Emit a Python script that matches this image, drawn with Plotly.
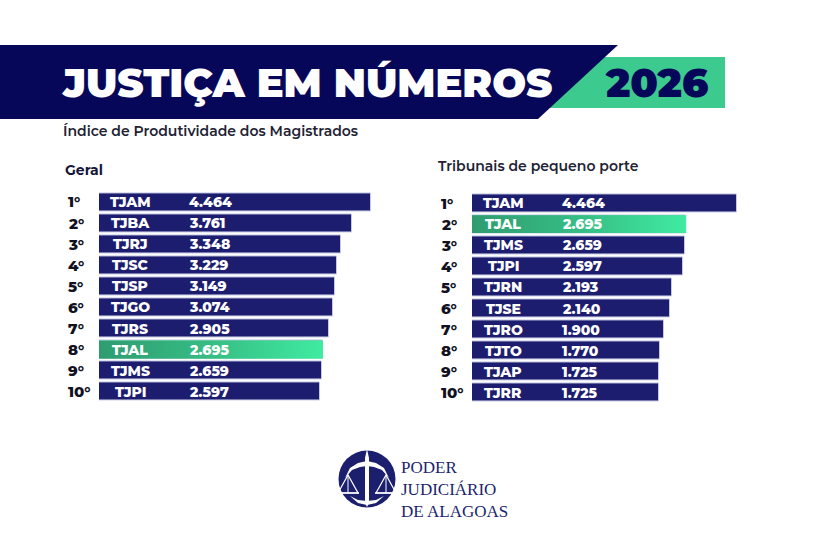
import plotly.graph_objects as go

# ---------------- data ----------------
title_text = "JUSTIÇA EM NÚMEROS"
year_text = "2026"
subtitle_text = "Índice de Produtividade dos Magistrados"
left_title = "Geral"
right_title = "Tribunais de pequeno porte"
logo_lines = ["PODER", "JUDICIÁRIO", "DE ALAGOAS"]

ranks = ["1°", "2°", "3°", "4°", "5°", "6°", "7°", "8°", "9°", "10°"]
geral_courts = ["TJAM", "TJBA", "TJRJ", "TJSC", "TJSP", "TJGO", "TJRS", "TJAL", "TJMS", "TJPI"]
geral_values = [4464, 3761, 3348, 3229, 3149, 3074, 2905, 2695, 2659, 2597]
peq_courts = ["TJAM", "TJAL", "TJMS", "TJPI", "TJRN", "TJSE", "TJRO", "TJTO", "TJAP", "TJRR"]
peq_values = [4464, 2695, 2659, 2597, 2193, 2140, 1900, 1770, 1725, 1725]
highlight = "TJAL"

# ---------------- style ----------------
W, H = 825, 545
NAVY = "#07075a"
BAR = "#1d1d6f"
BAR_EDGE = "#c5c8e4"
GREEN = "#3cca8f"
TEXT_DARK = "#15153a"
FONT = "Montserrat, Inter, 'Open Sans', sans-serif"
SERIF = "'Liberation Serif', 'DejaVu Serif', serif"

# per-panel pixel scale (px per unit) and bar base offset (units)
PXU_L, OFF_L = 0.0271, 5570
PXU_R, OFF_R = 0.0285, 4820
X_END = 5000
BAR_W = 0.85


def px(x):
    return x / W


def py(y):
    return 1 - y / H


def path(points, close=True):
    s = "M " + " L ".join(f"{px(x):.5f},{py(y):.5f}" for x, y in points)
    return s + (" Z" if close else "")


def fmt(v):
    return f"{v:,}".replace(",", ".")


ranks_pos = list(range(1, len(ranks) + 1))

fig = go.Figure()


def add_panel(courts, values, off, xa, ya):
    colors = [GREEN if c == highlight else BAR for c in courts]
    fig.add_trace(go.Bar(
        y=ranks_pos, x=[v + off for v in values], base=-off, orientation="h",
        width=BAR_W, marker=dict(color=colors, line=dict(color=BAR_EDGE, width=1)),
        xaxis=xa, yaxis=ya, customdata=courts,
        hovertemplate="%{customdata}<extra></extra>", showlegend=False))
    for c, v, r in zip(courts, values, ranks_pos):
        if c == highlight:
            y0, y1 = r - BAR_W / 2, r + BAR_W / 2
            fig.add_trace(go.Scatter(
                x=[-off, v, v, -off, -off], y=[y0, y0, y1, y1, y0],
                mode="lines", line=dict(width=0), fill="toself",
                fillgradient=dict(type="horizontal",
                                  colorscale=[[0, "#2f9c70"], [0.5, "#36bd84"], [1, "#40eba1"]]),
                xaxis=xa, yaxis=ya, hoverinfo="skip", showlegend=False))


add_panel(geral_courts, geral_values, OFF_L, "x", "y")
add_panel(peq_courts, peq_values, OFF_R, "x2", "y2")

left_x0, right_x0 = 99, 472
left_dom = [px(left_x0), px(left_x0 + (X_END + OFF_L) * PXU_L)]
right_dom = [px(right_x0), px(right_x0 + (X_END + OFF_R) * PXU_R)]

row0_l, row0_r, step = 202, 203, 21.1


def ydom(row0):
    top = row0 - step / 2
    bot = row0 + (len(ranks) - 1) * step + step / 2
    return [py(bot), py(top)]


ax_common = dict(visible=False, showgrid=False, zeroline=False, fixedrange=True)
fig.update_layout(
    width=W, height=H, margin=dict(l=0, r=0, t=0, b=0),
    paper_bgcolor="white", plot_bgcolor="rgba(0,0,0,0)",
    bargap=0, showlegend=False,
    xaxis=dict(domain=left_dom, range=[-OFF_L, X_END], **ax_common),
    yaxis=dict(domain=ydom(row0_l), range=[len(ranks) + 0.5, 0.5], **ax_common),
    xaxis2=dict(domain=right_dom, range=[-OFF_R, X_END], anchor="y2", **ax_common),
    yaxis2=dict(domain=ydom(row0_r), range=[len(ranks) + 0.5, 0.5], anchor="x2", **ax_common),
)

shapes = []
# header
shapes.append(dict(type="rect", xref="paper", yref="paper", x0=px(530), x1=px(725),
                   y0=py(108), y1=py(57), fillcolor=GREEN, line=dict(width=0), layer="below"))
shapes.append(dict(type="path", xref="paper", yref="paper",
                   path=path([(0, 45), (618, 45), (538, 119), (0, 119)]),
                   fillcolor=NAVY, line=dict(width=0), layer="below"))
# logo emblem
cx, cy, rr = 367, 479, 28.5
LOGO = "#1b1f6e"
shapes.append(dict(type="circle", xref="paper", yref="paper", x0=px(cx - rr), x1=px(cx + rr),
                   y0=py(cy + rr), y1=py(cy - rr), fillcolor=LOGO, line=dict(width=0)))
# crescent hilt
shapes.append(dict(type="path", xref="paper", yref="paper",
                   path=path([(345, 478), (350, 468), (358, 463), (367, 461), (376, 463), (384, 468), (389, 478),
                              (382, 470), (374, 467), (367, 466), (360, 467), (352, 470)]),
                   fillcolor="white", line=dict(width=0)))
# sword
shapes.append(dict(type="path", xref="paper", yref="paper",
                   path=path([(367, 449), (369, 458), (369, 503), (367, 507), (365, 503), (365, 458)]),
                   fillcolor="white", line=dict(width=0)))
# scales
for sx in (348, 386):
    shapes.append(dict(type="path", xref="paper", yref="paper",
                       path=path([(sx - 10, 493), (sx, 475), (sx + 10, 493)]),
                       fillcolor="rgba(0,0,0,0)", line=dict(color="white", width=1.2)))
    shapes.append(dict(type="line", xref="paper", yref="paper", x0=px(sx - 11), x1=px(sx + 11),
                       y0=py(493), y1=py(493), line=dict(color="white", width=1.5)))
    shapes.append(dict(type="line", xref="paper", yref="paper", x0=px(sx), x1=px(sx),
                       y0=py(475), y1=py(493), line=dict(color="white", width=1)))
# bottom cup
shapes.append(dict(type="path", xref="paper", yref="paper",
                   path=path([(350, 496), (358, 503), (367, 505), (376, 503), (384, 496),
                              (376, 500), (367, 501), (358, 500)]),
                   fillcolor="white", line=dict(width=0)))
fig.update_layout(shapes=shapes)

ann = []


def text(x, y, s, size, color, weight=700, anchor="left", family=FONT, yref="paper", align="left"):
    ann.append(dict(x=px(x), y=(py(y) if yref == "paper" else y), xref="paper", yref=yref,
                    text=s, showarrow=False, xanchor=anchor, yanchor="middle", align=align,
                    font=dict(family=family, size=size, color=color, weight=weight)))


text(60, 82, title_text, 40, "white", 900)
text(656, 82, year_text, 40, NAVY, 900, anchor="center")
text(61, 131, subtitle_text, 14, "#222233", 600)
text(63, 170, left_title, 14, TEXT_DARK, 700)
text(436, 166, right_title, 14, "#222233", 600)

for r, lab, c, v in zip(ranks_pos, ranks, geral_courts, geral_values):
    text(66, r, lab, 15, "#111122", 800, yref="y")
    text(left_x0 + 31, r, c, 14, "white", 800, anchor="center", yref="y")
    text(left_x0 + 88, r, fmt(v), 14, "white", 800, yref="y")
for r, lab, c, v in zip(ranks_pos, ranks, peq_courts, peq_values):
    text(439, r, lab, 15, "#111122", 800, yref="y2")
    text(right_x0 + 31, r, c, 14, "white", 800, anchor="center", yref="y2")
    text(right_x0 + 88, r, fmt(v), 14, "white", 800, yref="y2")

# logo text as one block
text(399, 489, "<br>".join(logo_lines), 17, LOGO, 400, family=SERIF)

fig.update_layout(annotations=ann)
fig.write_html("out.html")
